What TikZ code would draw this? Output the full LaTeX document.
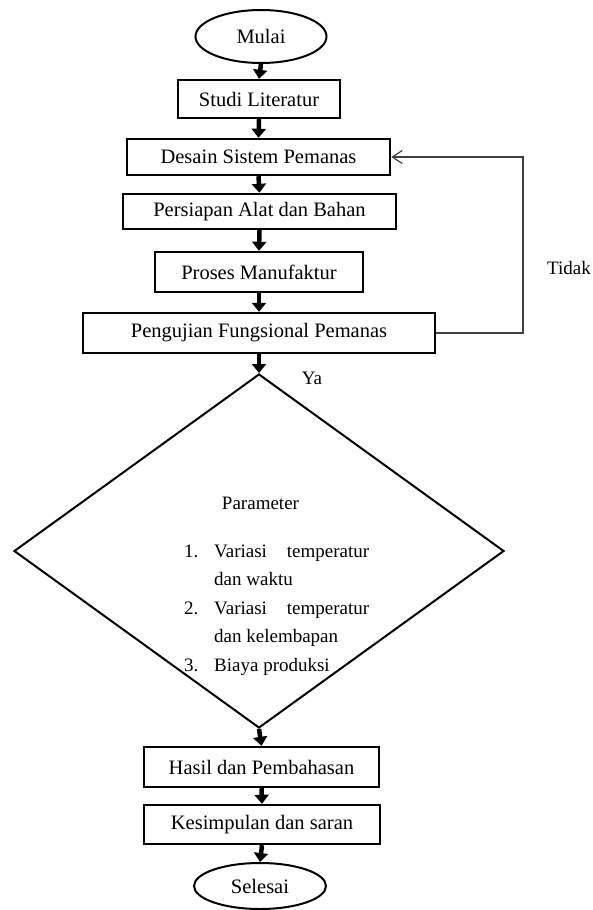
\documentclass[tikz,border=0pt]{standalone}
\usepackage{fontspec}
\setmainfont{Liberation Serif}
\usetikzlibrary{shapes.geometric,arrows.meta}
\begin{document}
\begin{tikzpicture}[x=1pt,y=-1pt,
  boxtext/.style={font=\fontsize{20.5}{24}\selectfont},
  procbox/.style={draw,rectangle,line width=2.4pt,inner sep=0pt,boxtext},
  termbox/.style={draw,ellipse,line width=2pt,inner sep=0pt,boxtext},
  decbox/.style={draw,diamond,line width=2pt,inner sep=0pt},
  smalltext/.style={font=\fontsize{19}{28.5}\selectfont,inner sep=0pt},
  flowarrow/.style={line width=4.5pt,-{Triangle[width=14pt,length=9pt]}},
  loopline/.style={line width=1.2pt,draw=black!75,-{Straight Barb[length=10pt,width=13pt,line width=1.2pt]}}
]
\useasboundingbox (0,0) rectangle (592,910);
\node[termbox,minimum width=131pt,minimum height=53pt] (mulai) at (261,36.5) {Mulai};
\node[procbox,minimum width=162pt,minimum height=38pt] (studi) at (259,99) {Studi Literatur};
\node[procbox,minimum width=263pt,minimum height=36pt] (desain) at (258.5,157) {Desain Sistem Pemanas};
\node[procbox,minimum width=273pt,minimum height=35pt] (persiapan) at (259.5,211.5) {Persiapan Alat dan Bahan};
\node[procbox,minimum width=208pt,minimum height=40pt] (proses) at (259,272) {Proses Manufaktur};
\node[procbox,minimum width=352pt,minimum height=40pt] (pengujian) at (259,333) {Pengujian Fungsional Pemanas};
\node[decbox,minimum width=490pt,minimum height=354pt] (param) at (259,551) {};
\node[smalltext] (paramtitle) at (260.5,503) {Parameter};
\node[smalltext,anchor=base west] (paramlist) at (184,557) {%
  \begin{tabular}[t]{@{}l@{}l@{}}
  \makebox[30pt][l]{1.} & \makebox[155pt][s]{Variasi\hfill temperatur}\\
   & dan waktu\\
  \makebox[30pt][l]{2.} & \makebox[155pt][s]{Variasi\hfill temperatur}\\
   & dan kelembapan\\
  \makebox[30pt][l]{3.} & Biaya produksi
  \end{tabular}};
\node[procbox,minimum width=235pt,minimum height=40pt] (hasil) at (261.5,767) {Hasil dan Pembahasan};
\node[procbox,minimum width=236pt,minimum height=39pt] (kesimpulan) at (262,824.5) {Kesimpulan dan saran};
\node[termbox,minimum width=132pt,minimum height=46pt] (selesai) at (260,886) {Selesai};
\node[smalltext] (ya) at (312,378) {Ya};
\node[smalltext] (tidak) at (569,268) {Tidak};
\coordinate (loopbottom) at (523,333);
\coordinate (looptop) at (523,157);
\draw[flowarrow] (mulai.south) -- (studi.north);
\draw[flowarrow] (studi.south) -- (desain.north);
\draw[flowarrow] (desain.south) -- (persiapan.north);
\draw[flowarrow] (persiapan.south) -- (proses.north);
\draw[flowarrow] (proses.south) -- (pengujian.north);
\draw[flowarrow] (pengujian.south) -- (param.north);
\draw[flowarrow] (param.south) -- (hasil.north);
\draw[flowarrow] (hasil.south) -- (kesimpulan.north);
\draw[flowarrow] (kesimpulan.south) -- (selesai.north);
\draw[loopline] (pengujian.east) -- (loopbottom) -- (looptop) -- (desain.east);
\end{tikzpicture}
\end{document}
